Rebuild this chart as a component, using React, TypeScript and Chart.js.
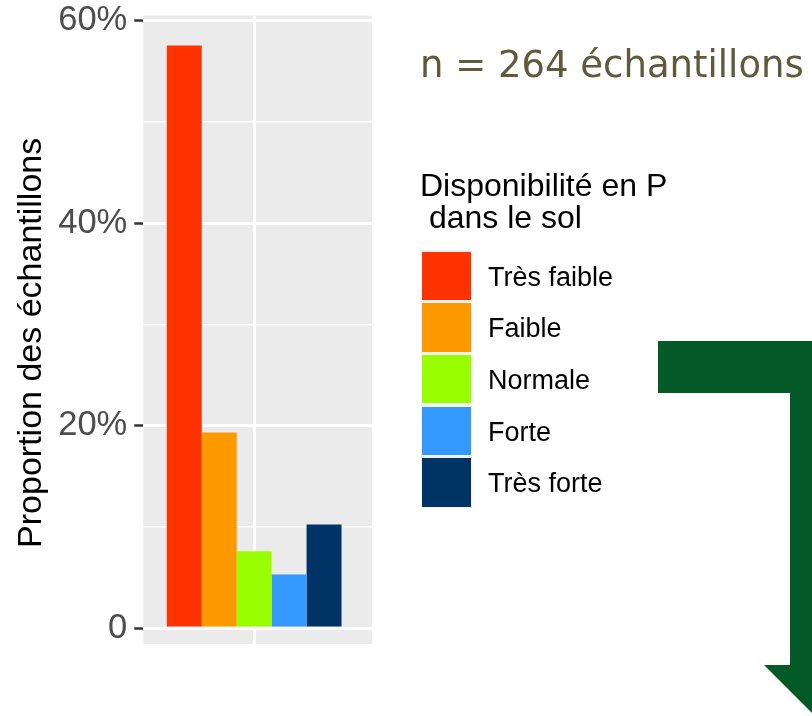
import React, { useEffect, useRef } from "react";
import { Chart, registerables } from "chart.js";

Chart.register(...registerables);

// ---- Data ----
const categories = ["Très faible", "Faible", "Normale", "Forte", "Très forte"];
const proportions = [57.58, 19.32, 7.58, 5.3, 10.23]; // % of samples
const colors = ["#FF3300", "#FF9900", "#99FF00", "#3399FF", "#003366"];
const yTicks = [0, 10, 20, 30, 40, 50, 60];
const yMajorLabels: Record<number, string> = { 0: "0", 20: "20%", 40: "40%", 60: "60%" };
const sampleCount = 264;
const yTitle = "Proportion des échantillons";
const legendTitle = ["Disponibilité en P", "\u00a0dans le sol"];

const SANS = "'Liberation Sans', Arial, sans-serif";

const panelBg = {
  id: "panelBg",
  beforeDraw(chart: any) {
    const { ctx, chartArea } = chart;
    if (!chartArea) return;
    ctx.save();
    ctx.fillStyle = "#EBEBEB";
    ctx.fillRect(chartArea.left, chartArea.top, chartArea.right - chartArea.left, chartArea.bottom - chartArea.top);
    ctx.restore();
  },
};

// y-axis title, drawn slightly below the panel centre as in the reference
const yTitlePlugin = {
  id: "yTitlePlugin",
  afterDraw(chart: any) {
    const { ctx, chartArea } = chart;
    if (!chartArea) return;
    const cy = (chartArea.top + chartArea.bottom) / 2 + 13;
    ctx.save();
    ctx.translate(31.5, cy);
    ctx.rotate(-Math.PI / 2);
    ctx.font = `34px ${SANS}`;
    ctx.fillStyle = "#000000";
    ctx.textAlign = "center";
    ctx.textBaseline = "middle";
    ctx.fillText(yTitle, 0, 0);
    ctx.restore();
  },
};

export default function App() {
  const ref = useRef<HTMLCanvasElement | null>(null);

  useEffect(() => {
    if (!ref.current) return;
    const chart = new Chart(ref.current, {
      type: "bar",
      data: {
        datasets: categories.map((c, i) => ({
          label: c,
          data: [{ x: 0, y: proportions[i] }],
          backgroundColor: colors[i],
          borderWidth: 0,
          barPercentage: 1,
          categoryPercentage: 0.764,
        })),
      },
      options: {
        responsive: false,
        animation: false,
        layout: { padding: { left: 0, top: 15.7, right: 440, bottom: 72 } },
        plugins: { legend: { display: false }, tooltip: { enabled: false } },
        scales: {
          x: {
            type: "linear",
            min: -0.571,
            max: 0.607,
            offset: false,
            afterBuildTicks: (s: any) => {
              s.ticks = [{ value: 0 }];
            },
            afterFit: (s: any) => {
              s.height = 0;
              s.paddingLeft = 0;
              s.paddingRight = 0;
            },
            ticks: { display: false },
            grid: { color: "#FFFFFF", lineWidth: 3, drawTicks: false, offset: false },
            border: { display: false },
          },
          y: {
            type: "linear",
            min: -1.58,
            max: 60.52,
            afterBuildTicks: (s: any) => {
              s.ticks = yTicks.map((v) => ({ value: v }));
            },
            afterFit: (s: any) => {
              s.width = 143.3;
              s.paddingTop = 0;
              s.paddingBottom = 0;
            },
            ticks: {
              autoSkip: false,
              callback: (v: any) => yMajorLabels[v as number] ?? "",
              color: "#4D4D4D",
              font: { family: SANS, size: 34.5 },
              padding: 7,
            },
            grid: {
              color: "#FFFFFF",
              lineWidth: (c: any) => (c.tick && c.tick.value % 20 === 0 ? 3 : 1.5),
              tickColor: (c: any) => (c.tick && c.tick.value % 20 === 0 ? "#333333" : "rgba(0,0,0,0)"),
              tickLength: 9,
              tickWidth: 2.5,
            },
            border: { display: false },
            title: { display: false, text: yTitle },
          },
        },
      },
      plugins: [panelBg, yTitlePlugin],
    } as any);
    return () => chart.destroy();
  }, []);

  const keyTop0 = 250.2;
  const keyStep = 51.6;

  return (
    <div style={{ position: "fixed", left: 0, top: 0, width: 812, height: 716, background: "#FFFFFF", overflow: "hidden" }}>
      <canvas ref={ref} width={812} height={716} style={{ position: "absolute", left: 0, top: 0, display: "block" }} />
      <div
        style={{
          position: "absolute",
          left: 420,
          top: 45.7,
          fontFamily: "'DejaVu Sans', Verdana, sans-serif",
          fontSize: 37,
          lineHeight: "37px",
          color: "#5E5A3B",
          whiteSpace: "nowrap",
        }}
      >
        {`n = ${sampleCount} échantillons`}
      </div>
      <div
        style={{
          position: "absolute",
          left: 420,
          top: 168.5,
          fontFamily: SANS,
          fontSize: 32,
          lineHeight: "32px",
          color: "#000000",
          whiteSpace: "nowrap",
        }}
      >
        {legendTitle.map((t, i) => (
          <div key={i}>{t}</div>
        ))}
      </div>
      {categories.map((c, i) => (
        <React.Fragment key={c}>
          <div
            style={{
              position: "absolute",
              left: 420.5,
              top: keyTop0 + i * keyStep,
              width: 51.6,
              height: keyStep,
              background: "#F2F2F2",
            }}
          >
            <div
              style={{
                position: "absolute",
                left: 1.6,
                top: 1.6,
                right: 1.6,
                bottom: 1.6,
                background: colors[i],
              }}
            />
          </div>
          <div
            style={{
              position: "absolute",
              left: 488,
              top: keyTop0 + i * keyStep + 13.5,
              fontFamily: SANS,
              fontSize: 27,
              lineHeight: "26px",
              color: "#000000",
              whiteSpace: "nowrap",
            }}
          >
            {c}
          </div>
        </React.Fragment>
      ))}
      <svg width={812} height={716} style={{ position: "absolute", left: 0, top: 0, pointerEvents: "none" }}>
        <polygon
          points="658,341 842,341 842,665 868,665 816,717 764,665 790,665 790,393 658,393"
          fill="#035A26"
        />
      </svg>
    </div>
  );
}
